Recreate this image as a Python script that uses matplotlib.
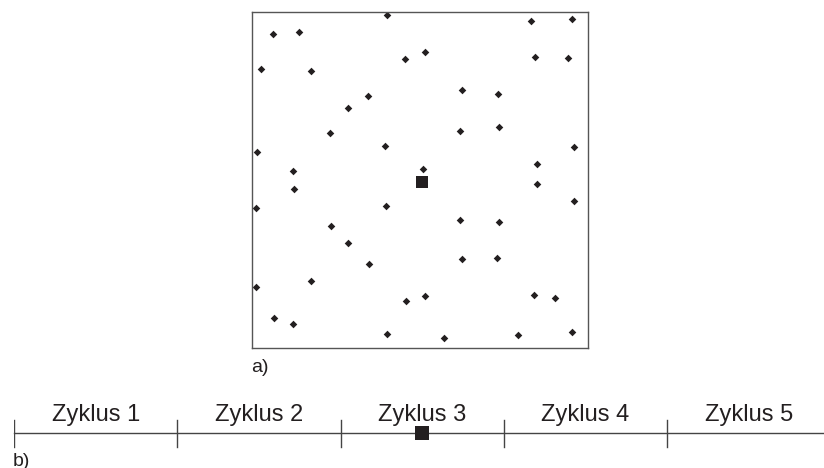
import matplotlib.pyplot as plt

# panel a) scattered points, box coordinates 0..100
pts_x = [40.3, 6.3, 13.9, 45.5, 2.8, 17.5, 34.4, 28.5, 23.3, 1.5, 39.7, 12.2,
         82.9, 95.2, 51.4, 84.2, 94.0, 62.5, 73.1, 62.0, 73.6, 95.9, 84.7, 50.9,
         12.6, 1.1, 39.8, 23.6, 28.7, 34.7, 17.5, 1.1, 45.8, 6.5, 12.2, 40.3,
         84.7, 95.7, 61.8, 73.6, 62.5, 72.9, 51.4, 84.0, 90.1, 57.1, 79.1, 95.1]
pts_y = [99.1, 93.5, 94.0, 86.1, 82.9, 82.4, 75.0, 71.3, 63.9, 58.4, 60.2, 52.8,
         97.3, 97.8, 88.0, 86.7, 86.2, 76.9, 75.6, 64.5, 65.8, 59.8, 54.8, 53.4,
         47.3, 41.7, 42.3, 36.2, 31.2, 25.1, 20.0, 18.2, 14.1, 8.9, 7.1, 4.3,
         48.7, 43.8, 38.0, 37.6, 26.5, 26.9, 15.4, 15.8, 15.0, 2.9, 3.9, 4.7]
center_x, center_y = 50.5, 49.3

# panel b) timeline
cycles = ["Zyklus 1", "Zyklus 2", "Zyklus 3", "Zyklus 4", "Zyklus 5"]
marker_pos = 2.5

dark = "#231f20"
plt.rcParams['font.family'] = ['Liberation Sans', 'DejaVu Sans']

fig = plt.figure(figsize=(8.24, 4.68), dpi=100)
W, H = 824, 468

# --- a) ---
ax = fig.add_axes([252 / W, (H - 348) / H, 336 / W, 336 / H])
ax.scatter(pts_x, pts_y, marker='D', s=15, color=dark, linewidths=0)
ax.scatter([center_x], [center_y], marker='s', s=80, color=dark, linewidths=0)
ax.set_xlim(0, 100)
ax.set_ylim(0, 100)
ax.set_xticks([])
ax.set_yticks([])
for sp in ax.spines.values():
    sp.set_color("#555555")
    sp.set_linewidth(1.0)
fig.text(251 / W, (H - 367) / H, "a)", fontsize=14, color=dark, va='center', ha='left')

# --- b) ---
step = 163.3
tl = fig.add_axes([14 / W, 0, 5 * step / W, 1])
tl.set_xlim(0, 5)
tl.set_ylim(-(H - 433.3), 433.3)
tl.axis('off')
tl.plot([0, 5], [0, 0], color="#444444", lw=1.0, clip_on=False)
for i in range(len(cycles)):
    tl.plot([i, i], [-13.5, 13.5], color="#444444", lw=1.0)
    tl.text(i + 0.5, 18, cycles[i], fontsize=17, color=dark, ha='center', va='center')
tl.scatter([marker_pos], [0], marker='s', s=90, color=dark, linewidths=0, zorder=3)
fig.text(13 / W, (H - 461) / H, "b)", fontsize=14, color=dark, va='center', ha='left')

fig.savefig("out.png", dpi=100)
